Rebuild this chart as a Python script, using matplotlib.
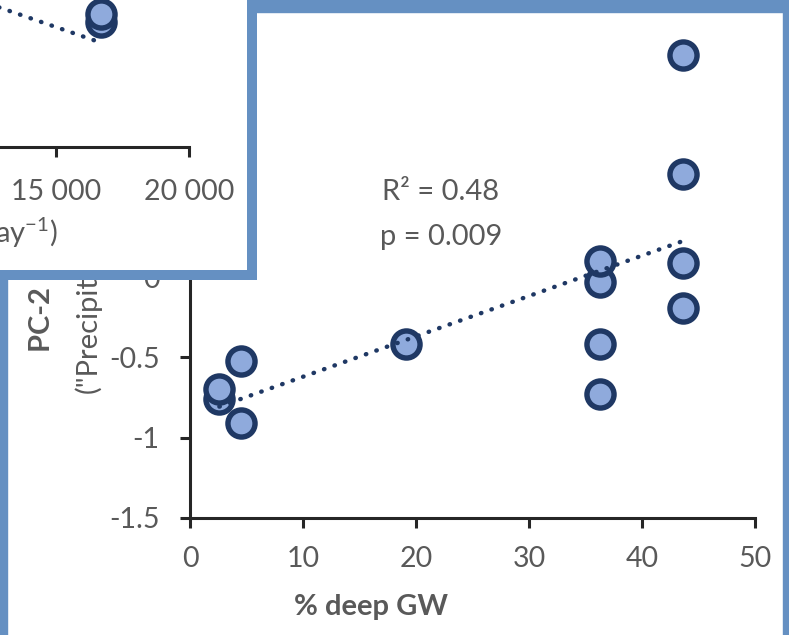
import numpy as np
import matplotlib
matplotlib.use("Agg")
import matplotlib.pyplot as plt
from matplotlib.patches import Rectangle

plt.rcParams['font.family'] = ['Lato', 'DejaVu Sans']
plt.rcParams['axes.unicode_minus'] = False
plt.rcParams['mathtext.fontset'] = 'custom'
plt.rcParams['mathtext.rm'] = 'Lato'

# main panel: PC-2 vs % deep groundwater
deep_gw = [2.6, 2.6, 4.5, 4.5, 19.1, 36.3, 36.3, 36.3, 36.3, 43.6, 43.6, 43.6, 43.6]
pc2 = [-0.76, -0.70, -0.52, -0.91, -0.42, -0.42, -0.73, -0.03, 0.10, 1.38, 0.64, 0.09, -0.19]
x_ticks = [0, 10, 20, 30, 40, 50]
y_ticks = [-1.5, -1, -0.5, 0, 0.5, 1, 1.5]
y_tick_labels = ["-1.5", "-1", "-0.5", "0", "0.5", "1", "1.5"]
r2_text = "R² = 0.48"
p_text = "p = 0.009"

# overlapping panel (partly visible): PC-2 vs discharge
discharge = [16680, 16680]
pc2_inset = [-0.72, -0.67]
inset_trend_x = [5000, 16680]
inset_trend_y = [-0.18, -0.85]
inset_ticks = [5000, 10000, 15000, 20000]
inset_tick_labels = ["5 000", "10 000", "15 000", "20 000"]

FACE = "#8FAADC"
EDGE = "#1F3864"
GREY = "#595959"
AXC = "#262626"
FRAME = "#6590C2"

W, H = 789, 635
fig = plt.figure(figsize=(W / 100, H / 100), dpi=100)
fig.patch.set_facecolor("white")


def fx(px):
    return px / W


def fy(py):
    return 1 - py / H


# ---- main axes
ax = fig.add_axes([fx(190), fy(518), fx(755) - fx(190), fy(36) - fy(518)])
ax.set_zorder(0)
ax.set_xlim(0, 50)
ax.set_ylim(-1.5, 1.5)
ax.plot(deep_gw, pc2, "o", ms=19.5, mfc=FACE, mec=EDGE, mew=3.9, clip_on=False, zorder=3)
coef = np.polyfit(deep_gw, pc2, 1)
xs = np.array([min(deep_gw), max(deep_gw)])
ax.plot(xs, np.polyval(coef, xs), color=EDGE, lw=3.2, linestyle=(0, (0.1, 2.4)),
        dash_capstyle="round", zorder=4)

for s in ["top", "right"]:
    ax.spines[s].set_visible(False)
for s in ["left", "bottom"]:
    ax.spines[s].set_linewidth(2.2)
    ax.spines[s].set_color(AXC)
ax.set_xticks(x_ticks)
ax.set_yticks(y_ticks)
ax.set_yticklabels(y_tick_labels)
ax.tick_params(axis="both", length=7, width=2.2, color=AXC, labelsize=20.5, labelcolor=GREY)
ax.tick_params(axis="x", pad=13)
ax.tick_params(axis="y", pad=15)

ax.text(22.2, 0.53, r2_text, ha="center", va="center", fontsize=21, color=GREY)
ax.text(22.2, 0.25, p_text, ha="center", va="center", fontsize=21, color=GREY)

ax.set_xlabel("% deep GW", fontsize=21, fontweight="bold", color=GREY)
ax.xaxis.set_label_coords((371 - 190) / 565, (518 - 594) / 482)

# y-axis title (its upper part lies under the overlapping panel)
fig.text(fx(42), fy(352), "PC-2 (17 %)", rotation=90, ha="center", va="bottom",
         fontsize=21, fontweight="bold", color=GREY, zorder=0.5)
fig.text(fx(88), fy(393), '("Precipitation")', rotation=90, ha="center", va="bottom",
         fontsize=21, color=GREY, zorder=0.5)

# ---- frame of the main chart area
fig.add_artist(Rectangle((0, 0), fx(7), 1, transform=fig.transFigure,
                         color=FRAME, zorder=1))
fig.add_artist(Rectangle((0, fy(12)), 1, 12 / H, transform=fig.transFigure,
                         color=FRAME, zorder=1))
fig.add_artist(Rectangle((fx(783), 0), 6 / W, 1, transform=fig.transFigure,
                         color=FRAME, zorder=1))

# ---- overlapping panel box
fig.add_artist(Rectangle((-0.1, fy(275)), fx(251.5) + 0.1, 275 / H + 0.1,
                         transform=fig.transFigure, facecolor="white",
                         edgecolor=FRAME, lw=7.2, zorder=2))

ax2 = fig.add_axes([fx(-210), fy(147), fx(189) - fx(-210), fy(-335) - fy(147)])
ax2.set_zorder(3)
ax2.patch.set_visible(False)
ax2.set_xlim(5000, 20000)
ax2.set_ylim(-1.5, 1.5)
ax2.plot(inset_trend_x, inset_trend_y, color=EDGE, lw=3.2, linestyle=(0, (0.1, 2.4)),
         dash_capstyle="round", zorder=2)
ax2.plot(discharge, pc2_inset, "o", ms=19.5, mfc=FACE, mec=EDGE, mew=3.9, clip_on=False, zorder=3)
for s in ["top", "right", "left"]:
    ax2.spines[s].set_visible(False)
ax2.spines["bottom"].set_linewidth(2.2)
ax2.spines["bottom"].set_color(AXC)
ax2.set_xticks(inset_ticks)
ax2.set_xticklabels(inset_tick_labels)
ax2.set_yticks([])
ax2.tick_params(axis="x", length=7, width=2.2, color=AXC, labelsize=20.5, labelcolor=GREY, pad=16)

fig.text(fx(58), fy(233), r"Mean discharge (m$^3$ day$^{-1}$)", ha="right", va="center",
         fontsize=21, color=GREY, zorder=4)

fig.savefig("out.png", dpi=100)
